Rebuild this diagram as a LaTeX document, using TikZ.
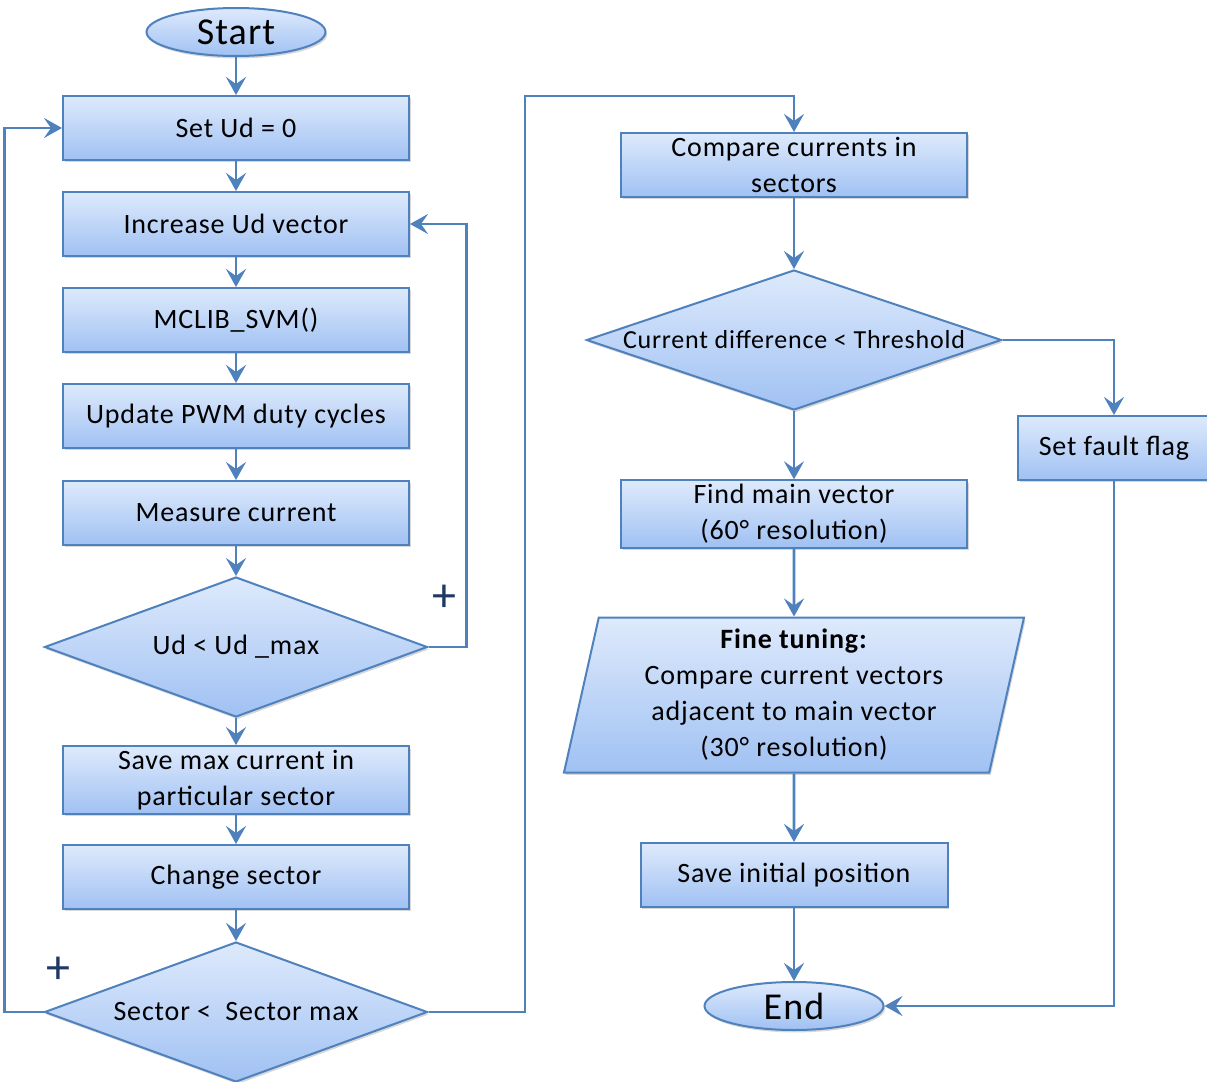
\documentclass[tikz,border=0pt]{standalone}
\usepackage{fontspec}
\setmainfont[LetterSpace=3]{Carlito}
\usetikzlibrary{shapes.geometric,arrows.meta,shadows}

\definecolor{edge}{RGB}{79,129,189}
\definecolor{topfill}{RGB}{222,234,252}
\definecolor{botfill}{RGB}{160,193,243}
\definecolor{plusblue}{RGB}{31,56,100}

\begin{document}
\begin{tikzpicture}[x=0.5pt, y=-0.5pt,
  every node/.style={font=\fontsize{14}{18}\selectfont, align=center},
  box/.style={rectangle, draw=edge, line width=1pt, top color=topfill, bottom color=botfill,
    drop shadow={shadow xshift=0.8pt, shadow yshift=-1.2pt, fill=black!45, opacity=0.35},
    minimum width=173pt, minimum height=32pt, inner sep=2pt},
  decision/.style={box, diamond, minimum width=191.5pt, minimum height=70pt, inner sep=0pt},
  terminal/.style={box, ellipse, minimum width=89.5pt, minimum height=24pt, inner sep=0pt,
    font=\fontsize{19}{22}\selectfont},
  slanted/.style={box, trapezium, trapezium left angle=76, trapezium right angle=104,
    trapezium stretches body, minimum width=230pt, minimum height=77.5pt},
  arr/.style={draw=edge, line width=1.35pt, -{Stealth[length=9pt, width=10pt, inset=3.5pt]}},
  plus/.style={text=plusblue, font=\fontsize{24}{24}\selectfont}]

\useasboundingbox (0,0) rectangle (1207,1082);

%% left column
\node[terminal] (start) at (236,32) {Start};
\node[box] (setud) at (236,128) {Set Ud = 0};
\node[box] (inc) at (236,224) {Increase Ud vector};
\node[box] (svm) at (236,320) {MCLIB\_SVM()};
\node[box] (pwm) at (236,416) {Update PWM duty cycles};
\node[box] (meas) at (236,513) {Measure current};
\node[decision] (udmax) at (236,647) {\makebox[0pt]{Ud < Ud \_max}};
\node[box] (savemax) at (236,780) {Save max current in\\particular sector};
\node[box] (chg) at (236,877) {Change sector};
\node[decision] (secmax) at (236,1012) {\makebox[0pt]{Sector <\ \ Sector max}};

%% right column
\node[box] (cmp) at (794,165) {Compare currents in\\sectors};
\node[decision, minimum width=207.5pt, font=\fontsize{13}{16}\selectfont] (thr) at (794,340)
  {\makebox[0pt]{Current difference\ < Threshold}};
\node[box, minimum width=96pt] (fault) at (1114,448) {Set fault flag};
\node[box] (findvec) at (794,514) {Find main vector\\(60° resolution)};
\node[slanted] (fine) at (794,695)
  {\textbf{Fine tuning:}\\Compare current vectors\\adjacent to main vector\\(30° resolution)};
\node[box, minimum width=153.5pt] (saveinit) at (794,875) {Save initial position};
\node[terminal] (end) at (794,1006) {End};

\node[plus] (plusa) at (444,598) {+};
\node[plus] (plusb) at (58,970) {+};
\coordinate (over) at (525,96);

%% main flow
\draw[arr] (start) -- (setud);
\draw[arr] (setud) -- (inc);
\draw[arr] (inc) -- (svm);
\draw[arr] (svm) -- (pwm);
\draw[arr] (pwm) -- (meas);
\draw[arr] (meas) -- (udmax);
\draw[arr] (udmax) -- (savemax);
\draw[arr] (savemax) -- (chg);
\draw[arr] (chg) -- (secmax);

%% loops
\draw[arr] (udmax.east) -- ++(38,0) |- (inc.east);
\draw[arr] (secmax.west) -- ++(-39,0) |- (setud.west);
\draw[arr] (secmax.east) -| (over) -| (cmp.north);

\draw[arr] (cmp) -- (thr);
\draw[arr] (thr) -- (findvec);
\draw[arr] (findvec) -- (fine);
\draw[arr] (fine) -- (saveinit);
\draw[arr] (saveinit) -- (end);
\draw[arr] (thr.east) -| (fault.north);
\draw[arr] (fault.south) |- (end.east);

\end{tikzpicture}
\end{document}
